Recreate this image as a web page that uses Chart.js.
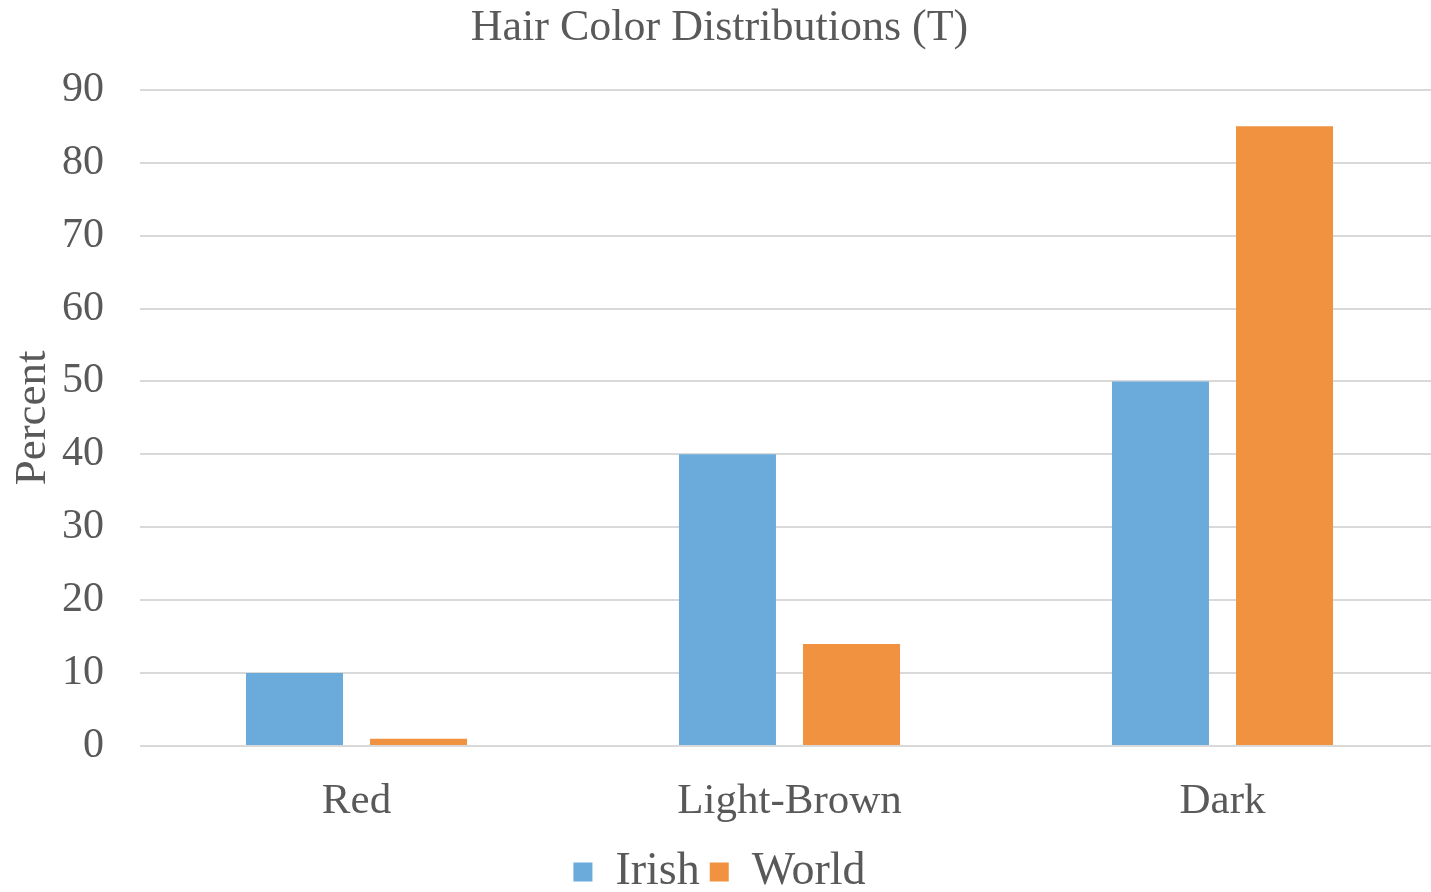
<!DOCTYPE html>
<html>
<head>
<meta charset="utf-8">
<script src="https://cdn.jsdelivr.net/npm/chart.js@4.4.1/dist/chart.umd.min.js"></script>
<style>
  html, body { margin: 0; padding: 0; background: #ffffff; overflow: hidden; }
  #wrap { width: 1431px; height: 892px; overflow: hidden; }
  #chart { display: block; }
</style>
</head>
<body>
<div id="wrap"><canvas id="chart" width="1439" height="892"></canvas></div>
<script>
// Hair colour shares (percent) by category
const categories = ['Red', 'Light-Brown', 'Dark'];
const irishValues = [10, 40, 50];
const worldValues = [1, 14, 85];
const seriesNames = ['Irish', 'World'];
const yTicks = [0, 10, 20, 30, 40, 50, 60, 70, 80, 90];

const textColor = '#595959';
const gridColor = '#d9d9d9';
const serif = '"Liberation Serif", "DejaVu Serif", serif';

new Chart(document.getElementById('chart'), {
  type: 'bar',
  data: {
    labels: categories,
    datasets: [
      { label: seriesNames[0], data: irishValues, backgroundColor: '#6aabdc', borderWidth: 0,
        categoryPercentage: 0.573, barPercentage: 0.782 },
      { label: seriesNames[1], data: worldValues, backgroundColor: '#f09240', borderWidth: 0,
        categoryPercentage: 0.573, barPercentage: 0.782 }
    ]
  },
  options: {
    responsive: false,
    animation: false,
    devicePixelRatio: 1,
    layout: { padding: { left: 0, right: 0, top: 0, bottom: -13 } },
    plugins: {
      title: {
        display: true,
        text: 'Hair Color Distributions (T)',
        color: textColor,
        font: { family: serif, size: 44, weight: 'normal' },
        padding: { top: 2, bottom: 35 }
      },
      legend: {
        position: 'bottom',
        labels: {
          color: textColor,
          font: { family: serif, size: 46 },
          boxWidth: 19,
          boxHeight: 19,
          padding: 10
        }
      },
      tooltip: { enabled: false }
    },
    scales: {
      x: {
        afterFit: (scale) => { scale.height = 93; },
        grid: { display: false },
        border: { display: false },
        ticks: { color: textColor, font: { family: serif, size: 43 }, padding: 22 }
      },
      y: {
        min: 0,
        max: 90,
        afterFit: (scale) => { scale.width = 140; },
        afterBuildTicks: (scale) => { scale.ticks = yTicks.map(v => ({ value: v })); },
        grid: { color: gridColor, lineWidth: 2, drawTicks: false },
        border: { display: false },
        ticks: { color: textColor, font: { family: serif, size: 42 }, padding: 36 },
        title: {
          display: true,
          text: 'Percent',
          color: textColor,
          font: { family: serif, size: 45 },
          padding: { top: 6, bottom: 0 }
        }
      }
    }
  }
});
</script>
</body>
</html>
